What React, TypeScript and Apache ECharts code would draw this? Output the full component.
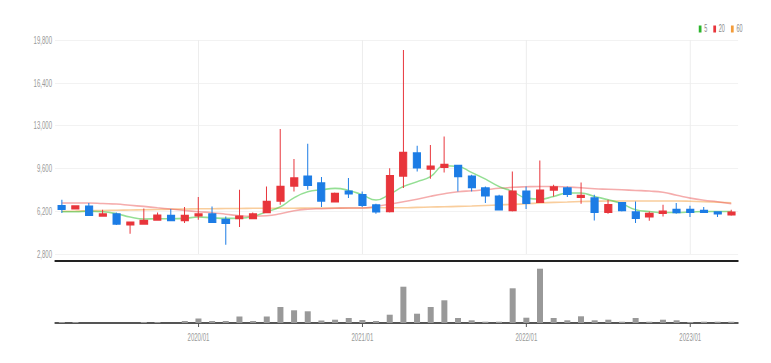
import React, { useEffect, useRef } from "react";
import * as echarts from "echarts";

// ---------- data ----------
const categories = [
  "2019/03", "2019/04", "2019/05", "2019/06", "2019/07", "2019/08", "2019/09", "2019/10", "2019/11", "2019/12",
  "2020/01", "2020/02", "2020/03", "2020/04", "2020/05", "2020/06", "2020/07", "2020/08", "2020/09", "2020/10",
  "2020/11", "2020/12", "2021/01", "2021/02", "2021/03", "2021/04", "2021/05", "2021/06", "2021/07", "2021/08",
  "2021/09", "2021/10", "2021/11", "2021/12", "2022/01", "2022/02", "2022/03", "2022/04", "2022/05", "2022/06",
  "2022/07", "2022/08", "2022/09", "2022/10", "2022/11", "2022/12", "2023/01", "2023/02", "2023/03", "2023/04",
];

const opens = [
  6630, 6400, 6580, 5840, 5970, 5130, 5200, 5520, 5840, 5470,
  5860, 5970, 5520, 5630, 5630, 6100, 7030, 8220, 8960, 8430,
  6970, 7770, 7500, 6690, 6180, 9010, 10810, 9570, 9700, 9810,
  8960, 8040, 7370, 6260, 7770, 6930, 7900, 8040, 7320, 7240,
  6130, 6850, 6130, 5780, 6050, 6320, 6320, 6240, 6130, 5920,
];
const closes = [
  6370, 6610, 5900, 5970, 5200, 5310, 5440, 5860, 5470, 5840,
  5970, 5340, 5260, 5780, 5970, 6950, 8160, 8830, 8280, 7030,
  7590, 7590, 6690, 6160, 9010, 10860, 9670, 9750, 9890, 8960,
  8090, 7430, 6320, 7770, 6850, 7850, 8120, 7560, 7430, 6130,
  6710, 6260, 5660, 6000, 6180, 6100, 6130, 6130, 6000, 6100,
];
const lows = [
  6050, 6360, 5840, 5800, 5100, 4410, 5150, 5470, 5440, 5260,
  5520, 5260, 3540, 4940, 5600, 6050, 6710, 7770, 7900, 6530,
  6930, 7240, 6530, 6000, 6100, 8040, 9350, 8780, 9280, 7770,
  7770, 6850, 6260, 6180, 6370, 6850, 7370, 7320, 6790, 5470,
  6000, 6180, 5260, 5440, 5780, 6000, 5740, 6050, 5740, 5840,
];
const highs = [
  7110, 6650, 6850, 6320, 6100, 5390, 6420, 6100, 6370, 6530,
  7320, 6580, 5780, 7900, 6100, 8160, 12720, 10340, 11550, 8910,
  7690, 8830, 7770, 6790, 9620, 19010, 11390, 11450, 12130, 9850,
  9090, 8160, 7500, 9350, 8160, 10230, 8300, 8160, 8480, 7500,
  7110, 6900, 6970, 6180, 6710, 6850, 6630, 6530, 6180, 6320,
];

const ma5 = [
  6160, 6160, 6200, 6160, 6000, 5740, 5580, 5600, 5600, 5630,
  5740, 5680, 5630, 5640, 5780, 6160, 6550, 7270, 7740, 7900,
  8010, 7850, 7500, 7090, 7550, 8160, 8540, 8960, 9810, 9750,
  9280, 8750, 8160, 7770, 7240, 7160, 7370, 7640, 7640, 7370,
  7110, 6790, 6320, 6180, 6100, 6100, 6130, 6180, 6180, 6180,
];
const ma20 = [
  6850, 6850, 6850, 6810, 6770, 6670, 6580, 6470, 6370, 6260,
  6160, 6080, 5960, 5840, 5800, 5840, 6000, 6240, 6360, 6400,
  6430, 6450, 6450, 6590, 6750, 6950, 7150, 7390, 7590, 7740,
  7820, 7900, 8020, 8100, 8140, 8160, 8160, 8120, 8060, 7980,
  7940, 7900, 7850, 7800, 7700, 7470, 7240, 7070, 6950, 6790,
];
const ma60 = [
  6200, 6210, 6240, 6250, 6280, 6290, 6320, 6330, 6360, 6370,
  6400, 6400, 6410, 6420, 6430, 6430, 6440, 6440, 6450, 6450,
  6450, 6460, 6460, 6470, 6470, 6470, 6500, 6530, 6550, 6580,
  6610, 6650, 6700, 6740, 6790, 6850, 6900, 6930, 6970, 6990,
  7010, 7010, 7010, 7010, 7010, 7010, 6990, 6950, 6910, 6870,
];

const volumes: (number | null)[] = [
  100000, 100000, null, null, null, null, 100000, 100000, null, 200000,
  450000, 200000, 200000, 650000, 200000, 650000, 1600000, 1270000, 1170000, 250000,
  330000, 500000, 300000, 200000, 830000, 3630000, 930000, 1600000, 2270000, 500000,
  270000, 130000, 130000, 3470000, 530000, 5430000, 500000, 270000, 670000, 270000,
  330000, 130000, 500000, 130000, 330000, 270000, 100000, 130000, 130000, 130000,
];

const priceMin = 2800;
const priceMax = 19800;
const priceStep = 3400;
const volumeMax = 5500000;

const legendNames = ["5", "20", "60"];

// ---------- styling ----------
const S = 0.55; // horizontal squeeze of the whole picture
const W = 771;
const H = 363;
const IW = W / S;
const hx = (x: number) => x / S;

const UP = "#e8353b";
const DOWN = "#1c7ce5";
const FONT = "'Liberation Sans', Arial, sans-serif";

const isYearStart = (_i: number, v: string) => String(v).endsWith("/01");

export default function App() {
  const ref = useRef<HTMLDivElement>(null);

  useEffect(() => {
    if (!ref.current) return;
    const chart = echarts.init(ref.current, undefined, { renderer: "svg" });
    const candleData = categories.map((_, i) => [opens[i], closes[i], lows[i], highs[i]]);
    const yearMarks = categories.filter((c) => c.endsWith("/01")).map((c) => ({ xAxis: c }));

    chart.setOption({
      animation: false,
      backgroundColor: "#fff",
      textStyle: { fontFamily: FONT },
      legend: {
        data: legendNames,
        left: hx(696),
        top: 19,
        icon: "rect",
        itemWidth: 5,
        itemHeight: 7,
        itemGap: hx(6),
        textStyle: { fontSize: 10, color: "#888", fontFamily: FONT },
      },
      grid: [
        { left: hx(55), right: hx(33), top: 40, height: 214 },
        { left: hx(55), right: hx(33), top: 268, height: 55 },
      ],
      xAxis: [
        {
          type: "category",
          gridIndex: 0,
          data: categories,
          boundaryGap: true,
          offset: 7,
          axisLine: { show: true, lineStyle: { color: "#222", width: 2 } },
          axisTick: { show: false },
          axisLabel: { show: false },
          splitLine: { show: false },
        },
        {
          type: "category",
          gridIndex: 1,
          data: categories,
          boundaryGap: true,
          axisLine: { show: true, lineStyle: { color: "#555", width: 2 } },
          axisTick: {
            show: true,
            alignWithLabel: true,
            interval: isYearStart,
            length: 4,
            lineStyle: { color: "#555", width: 1.8 },
          },
          axisLabel: {
            interval: isYearStart,
            color: "#999",
            fontSize: 11,
            margin: 9,
            fontFamily: FONT,
          },
          splitLine: { show: false },
        },
      ],
      yAxis: [
        {
          type: "value",
          gridIndex: 0,
          min: priceMin,
          max: priceMax,
          interval: priceStep,
          axisLine: { show: false },
          axisTick: { show: false },
          axisLabel: {
            color: "#999",
            fontSize: 11,
            margin: hx(3),
            fontFamily: FONT,
            formatter: (v: number) => v.toLocaleString("en-US"),
          },
          splitLine: { lineStyle: { color: "#eeeeee", width: 1 } },
        },
        {
          type: "value",
          gridIndex: 1,
          min: 0,
          max: volumeMax,
          show: false,
          splitLine: { show: false },
        },
      ],
      series: [
        {
          name: "60",
          type: "line",
          xAxisIndex: 0,
          yAxisIndex: 0,
          data: ma60,
          smooth: true,
          showSymbol: false,
          color: "#f39c3a",
          lineStyle: { color: "#f39c3a", width: 1.6, opacity: 0.5 },
          z: 2,
        },
        {
          name: "20",
          type: "line",
          xAxisIndex: 0,
          yAxisIndex: 0,
          data: ma20,
          smooth: true,
          showSymbol: false,
          color: "#e8353b",
          lineStyle: { color: "#ec5a5a", width: 1.6, opacity: 0.5 },
          z: 2,
        },
        {
          name: "5",
          type: "line",
          xAxisIndex: 0,
          yAxisIndex: 0,
          data: ma5,
          smooth: true,
          showSymbol: false,
          color: "#2cb52c",
          lineStyle: { color: "#3cc43c", width: 1.6, opacity: 0.55 },
          z: 2,
        },
        {
          name: "price",
          type: "candlestick",
          xAxisIndex: 0,
          yAxisIndex: 0,
          data: candleData,
          barWidth: hx(7.5),
          itemStyle: {
            color: UP,
            color0: DOWN,
            borderColor: UP,
            borderColor0: DOWN,
            borderWidth: 1.8,
          },
          markLine: {
            silent: true,
            symbol: ["none", "none"],
            label: { show: false },
            lineStyle: { color: "#ececec", width: 1.8, type: "solid" },
            data: yearMarks,
            z: 1,
          },
          z: 3,
        },
        {
          name: "volume",
          type: "bar",
          xAxisIndex: 1,
          yAxisIndex: 1,
          data: volumes.map((v) => (v === null ? "-" : v)),
          barWidth: hx(6),
          itemStyle: { color: "#999999" },
        },
      ],
    });

    return () => chart.dispose();
  }, []);

  return (
    <div
      style={{
        position: "fixed",
        left: 0,
        top: 0,
        width: W,
        height: H,
        overflow: "hidden",
        background: "#fff",
      }}
    >
      <div
        ref={ref}
        style={{
          width: IW,
          height: H,
          transform: `scaleX(${S})`,
          transformOrigin: "0 0",
        }}
      />
    </div>
  );
}
